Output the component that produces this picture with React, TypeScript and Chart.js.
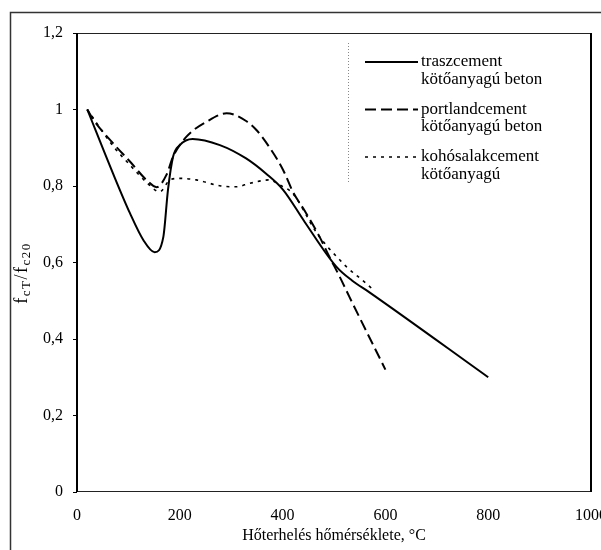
import React, { useEffect, useRef } from 'react';
import { Chart, registerables } from 'chart.js';

Chart.register(...registerables);

const FONT = '"Liberation Serif", "Times New Roman", Times, serif';

// traszcement kötőanyagú beton (solid)
const trasTemps = [20, 70, 103, 129, 151, 168, 177, 187, 200, 225, 278, 329, 368, 401, 443, 504, 535, 569, 800];
const trasValues = [1.0, 0.833, 0.729, 0.659, 0.627, 0.667, 0.79, 0.877, 0.907, 0.923, 0.907, 0.872, 0.832, 0.79, 0.706, 0.59, 0.553, 0.522, 0.3];

// portlandcement kötőanyagú beton (dashed)
const portTemps = [20, 32, 70, 103, 135, 155, 174, 187, 213, 252, 291, 329, 350, 375, 401, 420, 443, 472, 491, 511, 530, 600];
const portValues = [1.0, 0.973, 0.912, 0.864, 0.816, 0.797, 0.829, 0.877, 0.929, 0.968, 0.99, 0.97, 0.945, 0.9, 0.842, 0.785, 0.735, 0.667, 0.615, 0.563, 0.51, 0.32];

// kohósalakcement kötőanyagú (dotted)
const kohoTemps = [20, 70, 103, 135, 161, 181, 200, 232, 280, 310, 336, 375, 394, 420, 465, 485, 511, 524, 562, 575];
const kohoValues = [1.0, 0.905, 0.855, 0.81, 0.785, 0.816, 0.82, 0.816, 0.8, 0.798, 0.807, 0.816, 0.803, 0.78, 0.68, 0.645, 0.607, 0.589, 0.546, 0.53];

const seriesLabels = [
  ['traszcement', 'kötőanyagú beton'],
  ['portlandcement', 'kötőanyagú beton'],
  ['kohósalakcement', 'kötőanyagú'],
];
const seriesDashes = [[], [11, 5], [3, 5]];
const seriesWidths = [2, 2, 1.6];

const xMin = 0;
const xMax = 1000;
const xStep = 200;
const yMin = 0;
const yMax = 1.2;
const yStep = 0.2;
const xTitle = 'Hőterhelés hőmérséklete, °C';
const yTitleParts = [
  { t: 'f', sub: false },
  { t: 'cT', sub: true },
  { t: '/f', sub: false },
  { t: 'c20', sub: true },
];

function pts(xs: number[], ys: number[]) {
  return xs.map((x, i) => ({ x, y: ys[i] }));
}

const decorPlugin = {
  id: 'decor',
  beforeDraw(chart: any) {
    const ctx = chart.ctx;
    ctx.save();
    ctx.fillStyle = '#fff';
    ctx.fillRect(0, 0, chart.width, chart.height);
    ctx.strokeStyle = '#333';
    ctx.lineWidth = 1.5;
    ctx.beginPath();
    ctx.moveTo(10.5, chart.height);
    ctx.lineTo(10.5, 12.5);
    ctx.lineTo(chart.width, 12.5);
    ctx.stroke();
    ctx.restore();
  },
  afterDraw(chart: any) {
    const ctx = chart.ctx;
    const a = chart.chartArea;
    ctx.save();
    // plot frame
    ctx.strokeStyle = '#222';
    ctx.lineWidth = 1;
    ctx.beginPath();
    ctx.moveTo(a.left, a.top + 0.5);
    ctx.lineTo(a.right, a.top + 0.5);
    ctx.moveTo(a.left, a.bottom - 0.5);
    ctx.lineTo(a.right, a.bottom - 0.5);
    ctx.stroke();
    ctx.strokeStyle = '#000';
    ctx.lineWidth = 2;
    ctx.beginPath();
    ctx.moveTo(a.left, a.top);
    ctx.lineTo(a.left, a.bottom);
    ctx.moveTo(a.right, a.top);
    ctx.lineTo(a.right, a.bottom);
    ctx.stroke();

    // legend box left edge (dotted)
    ctx.strokeStyle = '#888';
    ctx.lineWidth = 1;
    ctx.setLineDash([1, 2]);
    ctx.beginPath();
    ctx.moveTo(348.5, 43);
    ctx.lineTo(348.5, 184);
    ctx.stroke();

    // legend items
    chart.data.datasets.forEach((ds: any, i: number) => {
      const y0 = 62 + i * 47.5;
      ctx.strokeStyle = '#000';
      ctx.lineWidth = seriesWidths[i];
      ctx.setLineDash(seriesDashes[i]);
      ctx.beginPath();
      ctx.moveTo(365, y0);
      ctx.lineTo(418, y0);
      ctx.stroke();
      ctx.setLineDash([]);
      ctx.fillStyle = '#000';
      ctx.font = `17px ${FONT}`;
      ctx.textAlign = 'left';
      ctx.textBaseline = 'middle';
      seriesLabels[i].forEach((line, j) => {
        ctx.fillText(line, 421, y0 + j * 17.5);
      });
    });

    // y title with subscripts
    ctx.translate(22, 273);
    ctx.rotate(-Math.PI / 2);
    ctx.textBaseline = 'middle';
    ctx.textAlign = 'left';
    ctx.fillStyle = '#000';
    const big = `18px ${FONT}`;
    const small = `13px ${FONT}`;
    let total = 0;
    const widths = yTitleParts.map((p) => {
      ctx.font = p.sub ? small : big;
      const w = ctx.measureText(p.t).width + 1.5 * p.t.length;
      total += w;
      return w;
    });
    let x = -total / 2;
    yTitleParts.forEach((p, i) => {
      ctx.font = p.sub ? small : big;
      let cx = x;
      for (const ch of p.t) {
        ctx.fillText(ch, cx, p.sub ? 5 : 0);
        cx += ctx.measureText(ch).width + 1.5;
      }
      x += widths[i];
    });
    ctx.restore();
  },
};

export default function App() {
  const ref = useRef<HTMLCanvasElement | null>(null);
  useEffect(() => {
    if (!ref.current) return;
    const chart = new Chart(ref.current, {
      type: 'line',
      data: {
        datasets: [
          { label: seriesLabels[0].join(' '), data: pts(trasTemps, trasValues) },
          { label: seriesLabels[1].join(' '), data: pts(portTemps, portValues) },
          { label: seriesLabels[2].join(' '), data: pts(kohoTemps, kohoValues) },
        ].map((d, i) => ({
          ...d,
          borderColor: '#000',
          backgroundColor: '#000',
          borderWidth: seriesWidths[i],
          borderDash: seriesDashes[i],
          pointRadius: 0,
          pointHoverRadius: 0,
          fill: false,
          cubicInterpolationMode: 'monotone' as const,
        })),
      },
      options: {
        responsive: false,
        animation: false,
        devicePixelRatio: 1,
        layout: { padding: { left: 0, right: 10, top: 33, bottom: 0 } },
        plugins: {
          legend: { display: false },
          tooltip: { enabled: false },
        },
        scales: {
          x: {
            type: 'linear',
            min: xMin,
            max: xMax,
            ticks: {
              stepSize: xStep,
              color: '#000',
              font: { family: FONT, size: 16 },
              padding: 14,
              maxRotation: 0,
              autoSkip: false,
              callback: (v: any) => String(Math.round(Number(v))),
            },
            grid: { display: false, drawTicks: false },
            border: { display: false },
            title: {
              display: true,
              text: xTitle,
              color: '#000',
              font: { family: FONT, size: 16 },
              padding: { top: 0, bottom: 5 },
            },
            afterFit: (s: any) => {
              s.height = 58;
              s.paddingLeft = 0;
              s.paddingRight = 0;
            },
          },
          y: {
            type: 'linear',
            min: yMin,
            max: yMax,
            ticks: {
              stepSize: yStep,
              color: '#000',
              font: { family: FONT, size: 16 },
              padding: 10,
              callback: (v: any) => String(Math.round(Number(v) * 10) / 10).replace('.', ','),
            },
            grid: { drawOnChartArea: false, drawTicks: true, tickLength: 4, color: '#000' },
            border: { display: false },
            afterFit: (s: any) => {
              s.width = 77;
            },
          },
        },
      },
      plugins: [decorPlugin],
    } as any);
    return () => chart.destroy();
  }, []);
  return (
    <canvas
      ref={ref}
      width={601}
      height={550}
      style={{ position: 'fixed', left: 0, top: 0, display: 'block' }}
    />
  );
}
